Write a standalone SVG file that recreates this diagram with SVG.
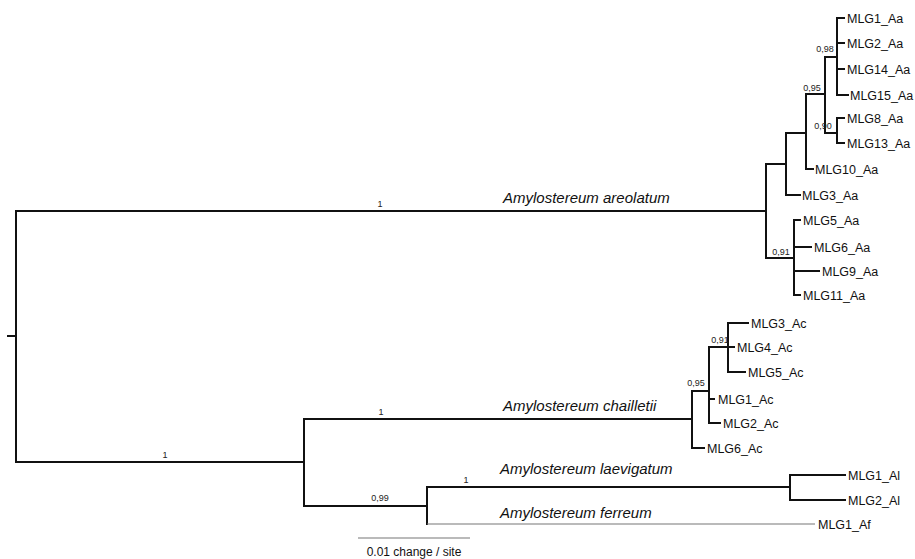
<svg xmlns="http://www.w3.org/2000/svg" width="915" height="559" viewBox="0 0 915 559">
<style>
.br{stroke:#111;stroke-width:2;fill:none;stroke-linecap:square}
.thin{stroke:#777;stroke-width:1.2;fill:none}
.leaf{font-family:"Liberation Sans",Arial,sans-serif;font-size:12.5px;fill:#111}
.sup{font-family:"Liberation Sans",Arial,sans-serif;font-size:9px;fill:#222;text-anchor:middle}
.sp{font-family:"Liberation Sans",Arial,sans-serif;font-size:15px;font-style:italic;fill:#111}
.scale{font-family:"Liberation Sans",Arial,sans-serif;font-size:12px;fill:#111;text-anchor:middle}
</style>
<rect width="915" height="559" fill="#fff"/>
<g id="connectors">
<path class="br" d="M8,336H16M16,211V462M16,211H766M766,164V258M766,164H786M786,133V195M786,133H806M806,94V169M806,94H825M825,57V133M825,57H837M837,18V95M837,18H844M837,43H844M837,69H844M837,95H848M825,133H837M837,118V143M837,118H844M837,143H844M806,169H813M786,195H800M766,258H794M794,220V295M794,220H800M794,247H811M794,271H819M794,295H800"/>
<path class="br" d="M16,462H304M304,419V506M304,419H692M692,391V448M692,391H709M709,347V423M709,347H728M728,323V372M728,323H748M728,347H734M728,372H745M709,399H714M709,423H720M692,448H704M304,506H427M427,487V524M427,487H790M790,475V500M790,475H845M790,500H845"/>
<path class="thin" d="M427,524H815"/>
<path class="thin" d="M358,538H470" stroke-width="1.5"/>
</g>
<g id="supports">
<text class="sup" x="380" y="207">1</text>
<text class="sup" x="812" y="91">0,95</text>
<text class="sup" x="825" y="52">0,98</text>
<text class="sup" x="823" y="129">0,90</text>
<text class="sup" x="781" y="255">0,91</text>
<text class="sup" x="165" y="458">1</text>
<text class="sup" x="381" y="415">1</text>
<text class="sup" x="696" y="386">0,95</text>
<text class="sup" x="720" y="343">0,91</text>
<text class="sup" x="380" y="501">0,99</text>
<text class="sup" x="466" y="483">1</text>
</g>
<g id="clade-areolatum"><text class="sp" x="503" y="203">Amylostereum areolatum</text></g>
<g id="clade-chailletii"><text class="sp" x="503" y="411">Amylostereum chailletii</text></g>
<g id="clade-laevigatum"><text class="sp" x="500" y="474">Amylostereum laevigatum</text></g>
<g id="clade-ferreum"><text class="sp" x="500" y="518">Amylostereum ferreum</text></g>
<g id="MLG1_Aa"><text class="leaf" x="847" y="22.5">MLG1_Aa</text></g>
<g id="MLG2_Aa"><text class="leaf" x="847" y="47.5">MLG2_Aa</text></g>
<g id="MLG14_Aa"><text class="leaf" x="847" y="73.5">MLG14_Aa</text></g>
<g id="MLG15_Aa"><text class="leaf" x="850" y="99.5">MLG15_Aa</text></g>
<g id="MLG8_Aa"><text class="leaf" x="847" y="122.5">MLG8_Aa</text></g>
<g id="MLG13_Aa"><text class="leaf" x="847" y="147.5">MLG13_Aa</text></g>
<g id="MLG10_Aa"><text class="leaf" x="815" y="173.5">MLG10_Aa</text></g>
<g id="MLG3_Aa"><text class="leaf" x="802" y="199.5">MLG3_Aa</text></g>
<g id="MLG5_Aa"><text class="leaf" x="803" y="224.5">MLG5_Aa</text></g>
<g id="MLG6_Aa"><text class="leaf" x="814" y="251.5">MLG6_Aa</text></g>
<g id="MLG9_Aa"><text class="leaf" x="822" y="275.5">MLG9_Aa</text></g>
<g id="MLG11_Aa"><text class="leaf" x="803" y="299.5">MLG11_Aa</text></g>
<g id="MLG3_Ac"><text class="leaf" x="751" y="327.5">MLG3_Ac</text></g>
<g id="MLG4_Ac"><text class="leaf" x="737" y="351.5">MLG4_Ac</text></g>
<g id="MLG5_Ac"><text class="leaf" x="748" y="376.5">MLG5_Ac</text></g>
<g id="MLG1_Ac"><text class="leaf" x="718" y="403.5">MLG1_Ac</text></g>
<g id="MLG2_Ac"><text class="leaf" x="723" y="427.5">MLG2_Ac</text></g>
<g id="MLG6_Ac"><text class="leaf" x="707" y="452.5">MLG6_Ac</text></g>
<g id="MLG1_Al"><text class="leaf" x="848" y="479.5">MLG1_Al</text></g>
<g id="MLG2_Al"><text class="leaf" x="848" y="504.5">MLG2_Al</text></g>
<g id="MLG1_Af"><text class="leaf" x="818" y="528.5">MLG1_Af</text></g>
<g id="scalebar"><text class="scale" x="414" y="556">0.01 change / site</text></g>
</svg>
